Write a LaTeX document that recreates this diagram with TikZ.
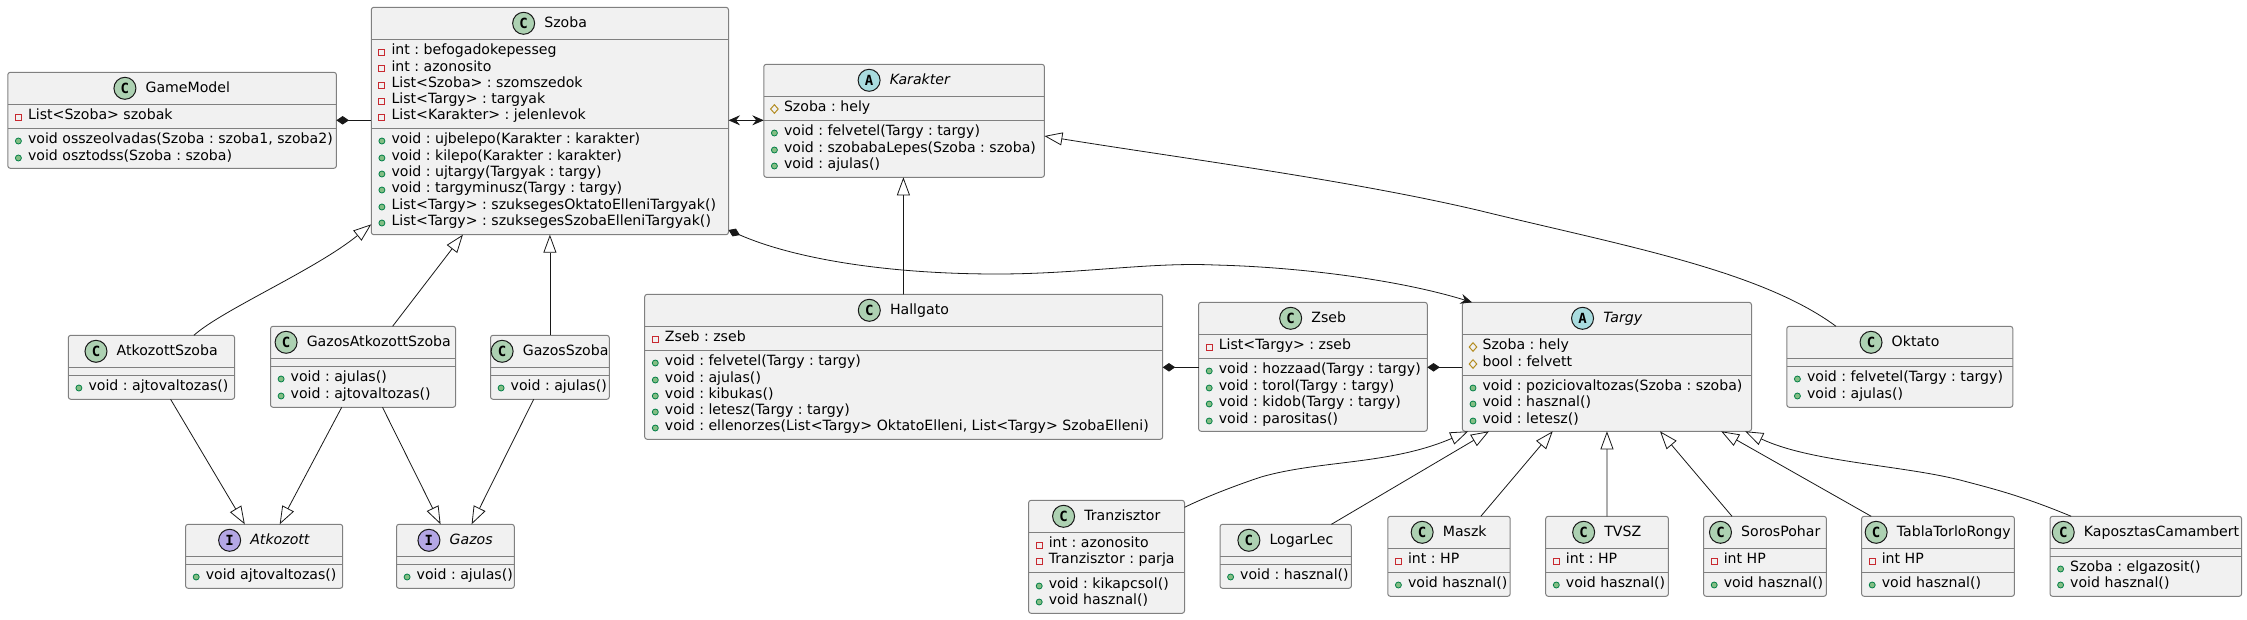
\documentclass[tikz,border=0pt]{standalone}
\usepackage{fontspec}
\setmainfont{DejaVu Sans}
\newfontfamily\badgefont{DejaVu Sans Mono}
\usetikzlibrary{arrows.meta,shapes.geometric}
\frenchspacing

\definecolor{boxfill}{HTML}{F1F1F1}
\definecolor{boxline}{HTML}{808080}
\definecolor{wireline}{HTML}{181818}
\definecolor{classgreen}{HTML}{ADD1B2}
\definecolor{abstractblue}{HTML}{A9DCDF}
\definecolor{ifacepurple}{HTML}{B4A7E5}
\definecolor{privred}{HTML}{C82930}
\definecolor{pubedge}{HTML}{038048}
\definecolor{pubfill}{HTML}{84BE84}
\definecolor{protedge}{HTML}{B38D22}

\newcommand{\textsize}{\fontsize{14.12}{14.12}\selectfont}
\tikzset{classbox/.style={draw=boxline,fill=boxfill,line width=1pt,rounded corners=2.5pt,inner sep=0pt,outer sep=0pt}}
\tikzset{rowline/.style={draw=boxline,line width=1pt}}
\tikzset{badge/.style={circle,draw=wireline,line width=1pt,inner sep=0pt,minimum size=22pt,font=\badgefont\bfseries\fontsize{14}{14}\selectfont}}
\tikzset{cbadge/.style={badge,fill=classgreen}}
\tikzset{abadge/.style={badge,fill=abstractblue}}
\tikzset{ibadge/.style={badge,fill=ifacepurple}}
\tikzset{title/.style={inner sep=0pt,font=\textsize,text height=10.5pt,text depth=3pt}}
\tikzset{member/.style={anchor=west,inner sep=0pt,font=\textsize,text height=10.5pt,text depth=3pt}}
\tikzset{privmark/.style={rectangle,draw=privred,fill=boxfill,line width=1pt,inner sep=0pt,minimum size=6pt}}
\tikzset{pubmark/.style={circle,draw=pubedge,fill=pubfill,line width=0.8pt,inner sep=0pt,minimum size=6pt}}
\tikzset{protmark/.style={diamond,draw=protedge,fill=boxfill,line width=1pt,inner sep=0pt,minimum width=8pt,minimum height=9pt}}
\tikzset{wire/.style={draw=wireline,line width=0.8pt}}
\tikzset{inherit/.style={wire,-{Triangle[fill=white,length=18pt,width=13pt]}}}
\tikzset{compose/.style={wire,{Diamond[length=12.5pt,width=8.5pt]}-}}
\tikzset{composearrow/.style={wire,{Diamond[length=12.5pt,width=8.5pt]}-{Stealth[length=11.5pt,width=10pt,inset=4pt]}}}
\tikzset{botharrow/.style={wire,{Stealth[length=11.5pt,width=10pt,inset=4pt]}-{Stealth[length=11.5pt,width=10pt,inset=4pt]}}}

\newcounter{rowno}
\newlength{\titlewidth}
% name, left, right, top, bottom, separator, badge, letter, title
\newcommand{\umlbox}[9]{
\node[classbox,minimum width={(#3-#2)*1pt},minimum height={(#5-#4)*1pt}] (#1) at ({(#2+#3)/2},{(#4+#5)/2}) {};
\draw[rowline] (#2,#4+32) -- (#3,#4+32);
\draw[rowline] (#2,#6) -- (#3,#6);
\settowidth{\titlewidth}{\textsize #9}
\pgfmathsetmacro{\badgepad}{22+min(9.5,2+0.1*(#3-#2-22-\titlewidth))}
\node[title] (#1 title) at ({(#2+#3)/2},#4+16) {\hspace*{\badgepad pt}#9};
\node[#7] (#1 badge) at ([xshift=11pt]#1 title.west) {#8};
}
% box name, mark style, row y, text
\newcommand{\umlrow}[4]{
\stepcounter{rowno}
\node[member] (#1 row\therowno) at ([xshift=20pt]#1.west |- 0,#3) {#4};
\node[#2] (#1 mark\therowno) at ([xshift=10.6pt]#1.west |- 0,#3+1) {};
}

\begin{document}
\begin{tikzpicture}[x=1pt,y=-1pt]
\useasboundingbox (0,0) rectangle (2247,619);

\umlbox{gamemodel}{7.8}{336.4}{72.3}{168.3}{128.3}{cbadge}{C}{GameModel}
\umlrow{gamemodel}{privmark}{116}{List<Szoba> szobak}
\umlrow{gamemodel}{pubmark}{140}{void osszeolvadas(Szoba : szoba1, szoba2)}
\umlrow{gamemodel}{pubmark}{157}{void osztodss(Szoba : szoba)}

\umlbox{szoba}{371.3}{728.5}{7.3}{234.7}{128.3}{cbadge}{C}{Szoba}
\umlrow{szoba}{privmark}{51}{int : befogadokepesseg}
\umlrow{szoba}{privmark}{67.3}{int : azonosito}
\umlrow{szoba}{privmark}{84}{List<Szoba> : szomszedok}
\umlrow{szoba}{privmark}{100}{List<Targy> : targyak}
\umlrow{szoba}{privmark}{116}{List<Karakter> : jelenlevok}
\umlrow{szoba}{pubmark}{140}{void : ujbelepo(Karakter : karakter)}
\umlrow{szoba}{pubmark}{157}{void : kilepo(Karakter : karakter)}
\umlrow{szoba}{pubmark}{173}{void : ujtargy(Targyak : targy)}
\umlrow{szoba}{pubmark}{189}{void : targyminusz(Targy : targy)}
\umlrow{szoba}{pubmark}{206}{List<Targy> : szuksegesOktatoElleniTargyak()}
\umlrow{szoba}{pubmark}{222}{List<Targy> : szuksegesSzobaElleniTargyak()}

\umlbox{karakter}{763.8}{1044.4}{64.3}{177.3}{120.3}{abadge}{A}{\itshape Karakter}
\umlrow{karakter}{protmark}{108}{Szoba : hely}
\umlrow{karakter}{pubmark}{132}{void : felvetel(Targy : targy)}
\umlrow{karakter}{pubmark}{149}{void : szobabaLepes(Szoba : szoba)}
\umlrow{karakter}{pubmark}{165}{void : ajulas()}

\umlbox{hallgato}{644.7}{1162.7}{294.3}{439.3}{350.3}{cbadge}{C}{Hallgato}
\umlrow{hallgato}{privmark}{338}{Zseb : zseb}
\umlrow{hallgato}{pubmark}{362}{void : felvetel(Targy : targy)}
\umlrow{hallgato}{pubmark}{379}{void : ajulas()}
\umlrow{hallgato}{pubmark}{395}{void : kibukas()}
\umlrow{hallgato}{pubmark}{411}{void : letesz(Targy : targy)}
\umlrow{hallgato}{pubmark}{427}{void : ellenorzes(List<Targy> OktatoElleni, List<Targy> SzobaElleni)}

\umlbox{zseb}{1198.6}{1427.3}{302.3}{431.3}{358.3}{cbadge}{C}{Zseb}
\umlrow{zseb}{privmark}{346}{List<Targy> : zseb}
\umlrow{zseb}{pubmark}{370}{void : hozzaad(Targy : targy)}
\umlrow{zseb}{pubmark}{387}{void : torol(Targy : targy)}
\umlrow{zseb}{pubmark}{403}{void : kidob(Targy : targy)}
\umlrow{zseb}{pubmark}{420}{void : parositas()}

\umlbox{targy}{1462.4}{1751.5}{302.3}{431.3}{375.3}{abadge}{A}{\itshape Targy}
\umlrow{targy}{protmark}{346}{Szoba : hely}
\umlrow{targy}{protmark}{363}{bool : felvett}
\umlrow{targy}{pubmark}{387}{void : poziciovaltozas(Szoba : szoba)}
\umlrow{targy}{pubmark}{403}{void : hasznal()}
\umlrow{targy}{pubmark}{420}{void : letesz()}

\umlbox{oktato}{1786.8}{2012.8}{326.3}{407.3}{366.3}{cbadge}{C}{Oktato}
\umlrow{oktato}{pubmark}{378}{void : felvetel(Targy : targy)}
\umlrow{oktato}{pubmark}{395}{void : ajulas()}

\umlbox{atkozottszoba}{68.3}{234.6}{335.3}{399.3}{375.3}{cbadge}{C}{AtkozottSzoba}
\umlrow{atkozottszoba}{pubmark}{387}{void : ajtovaltozas()}

\umlbox{gazosatkozottszoba}{270.5}{455.6}{326.3}{407.3}{366.3}{cbadge}{C}{GazosAtkozottSzoba}
\umlrow{gazosatkozottszoba}{pubmark}{378}{void : ajulas()}
\umlrow{gazosatkozottszoba}{pubmark}{395}{void : ajtovaltozas()}

\umlbox{gazosszoba}{490.5}{609.3}{335.3}{399.3}{375.3}{cbadge}{C}{GazosSzoba}
\umlrow{gazosszoba}{pubmark}{387}{void : ajulas()}

\umlbox{atkozott}{185.6}{342.7}{524.3}{588.3}{564.3}{ibadge}{I}{\itshape Atkozott}
\umlrow{atkozott}{pubmark}{576}{void ajtovaltozas()}

\umlbox{gazos}{396.5}{514.3}{524.3}{588.3}{564.3}{ibadge}{I}{\itshape Gazos}
\umlrow{gazos}{pubmark}{576}{void : ajulas()}

\umlbox{tranzisztor}{1028.6}{1184.5}{500.3}{613.3}{572.3}{cbadge}{C}{Tranzisztor}
\umlrow{tranzisztor}{privmark}{544}{int : azonosito}
\umlrow{tranzisztor}{privmark}{560}{Tranzisztor : parja}
\umlrow{tranzisztor}{pubmark}{585}{void : kikapcsol()}
\umlrow{tranzisztor}{pubmark}{601}{void hasznal()}

\umlbox{logarlec}{1220}{1351.4}{524.3}{588.3}{564.3}{cbadge}{C}{LogarLec}
\umlrow{logarlec}{pubmark}{576}{void : hasznal()}

\umlbox{maszk}{1387.8}{1510.2}{516.3}{596.3}{572.3}{cbadge}{C}{Maszk}
\umlrow{maszk}{privmark}{560}{int : HP}
\umlrow{maszk}{pubmark}{584}{void hasznal()}

\umlbox{tvsz}{1545.7}{1668.4}{516.3}{596.3}{572.3}{cbadge}{C}{TVSZ}
\umlrow{tvsz}{privmark}{560}{int : HP}
\umlrow{tvsz}{pubmark}{584}{void hasznal()}

\umlbox{sorospohar}{1703.6}{1826.4}{516.3}{596.3}{572.3}{cbadge}{C}{SorosPohar}
\umlrow{sorospohar}{privmark}{560}{int HP}
\umlrow{sorospohar}{pubmark}{584}{void hasznal()}

\umlbox{tablatorlorongy}{1861.6}{2014.4}{516.3}{596.3}{572.3}{cbadge}{C}{TablaTorloRongy}
\umlrow{tablatorlorongy}{privmark}{560}{int HP}
\umlrow{tablatorlorongy}{pubmark}{584}{void hasznal()}

\umlbox{kaposztascamambert}{2050}{2241.6}{516.3}{596.3}{556.3}{cbadge}{C}{KaposztasCamambert}
\umlrow{kaposztascamambert}{pubmark}{568}{Szoba : elgazosit()}
\umlrow{kaposztascamambert}{pubmark}{584}{void hasznal()}

% top row
\path[compose] ([yshift=-48pt]gamemodel.north east) -- ([yshift=-113pt]szoba.north west);
\path[botharrow] ([yshift=-113pt]szoba.north east) -- ([yshift=-56pt]karakter.north west);
\path[composearrow] ([yshift=4.7pt]szoba.south east) .. controls (790,257) and (880,274) .. (997,274) .. controls (1080,274) and (1150,262) .. (1215,265) .. controls (1300,267) and (1400,280) .. ([xshift=9.6pt]targy.north west);

\path[inherit] ([xshift=258.7pt]hallgato.north west) -- ([xshift=139.6pt]karakter.south west);
\path[inherit] ([xshift=49.2pt]oktato.north west) .. controls (1760,270) and (1620,245) .. (1480,210.7) .. controls (1350,180) and (1180,158) .. ([yshift=-71.7pt]karakter.north east);

\path[inherit] ([xshift=125.6pt]atkozottszoba.north west) .. controls (222,310) and (315,270) .. ([yshift=10.4pt]szoba.south west);
\path[inherit] ([xshift=122.1pt]gazosatkozottszoba.north west) -- ([xshift=91.6pt]szoba.south west);
\path[inherit] (gazosszoba.north) -- (szoba.south);

\path[inherit] ([xshift=102.3pt]atkozottszoba.south west) -- ([xshift=59.2pt]atkozott.north west);
\path[inherit] ([xshift=71.2pt]gazosatkozottszoba.south west) -- ([xshift=94.1pt]atkozott.north west);
\path[inherit] ([xshift=112pt]gazosatkozottszoba.south west) -- ([xshift=44.1pt]gazos.north west);
\path[inherit] ([xshift=43.2pt]gazosszoba.south west) -- ([xshift=75.1pt]gazos.north west);

% pockets
\path[compose] ([yshift=-73pt]hallgato.north east) -- ([yshift=-65pt]zseb.north west);
\path[compose] ([yshift=-65pt]zseb.north east) -- ([yshift=-65pt]targy.north west);

% items
\path[inherit] ([yshift=-7pt]tranzisztor.north east) .. controls (1210,495) and (1240,484) .. (1261,477) .. controls (1320,460) and (1390,465) .. ([xshift=5.8pt]targy.south west);
\path[inherit] ([xshift=111.4pt]logarlec.north west) -- ([xshift=26.6pt]targy.south west);
\path[inherit] ([xshift=93pt]maszk.north west) -- ([xshift=90.3pt]targy.south west);
\path[inherit] (tvsz.north) -- (targy.south);
\path[inherit] ([xshift=28.4pt]sorospohar.north west) -- ([xshift=197.6pt]targy.south west);
\path[inherit] ([xshift=9.6pt]tablatorlorongy.north west) -- ([xshift=258.8pt]targy.south west);
\path[inherit] ([xshift=21.2pt]kaposztascamambert.north west) .. controls (2020,495) and (1990,488) .. (1960,480) .. controls (1900,465) and (1810,462) .. ([xshift=282.8pt]targy.south west);

\end{tikzpicture}
\end{document}
